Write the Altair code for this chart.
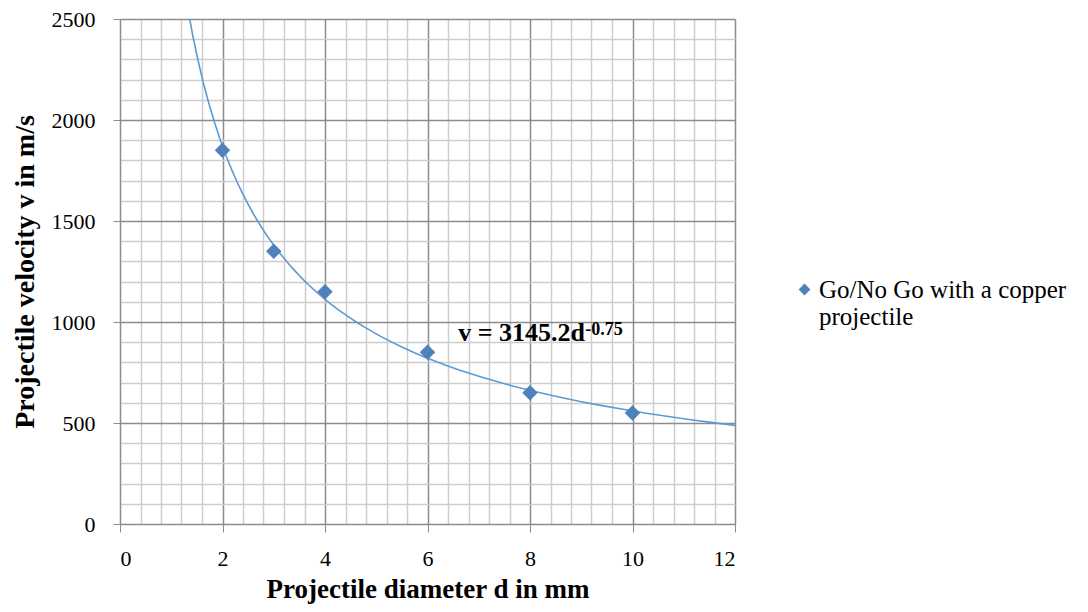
import altair as alt
import pandas as pd

diam = [2, 3, 4, 6, 8, 10]
vel = [1850, 1350, 1150, 850, 650, 550]
series_name = "Go/No Go with a copper projectile"
x_ticks = [round(i * 0.4, 1) for i in range(31)]
y_ticks = [i * 100 for i in range(26)]
eq_main = "v = 3145.2d"
eq_sup = "-0.75"
eq_pos = (6.6, 906)

df = pd.DataFrame({"d": diam, "v": vel, "series": [series_name] * len(diam)})
eq_df = pd.DataFrame({"d": [eq_pos[0]], "v": [eq_pos[1]]})

FONT = "Liberation Serif"
MAJ = "#8c8c8c"
MIN = "#cdcdcd"

xaxis = alt.Axis(
    values=x_ticks,
    tickCount=100,
    title="Projectile diameter d in mm",
    labelExpr="abs(datum.value % 2) < 0.001 ? format(datum.value, 'd') : ''",
    gridColor={"condition": {"test": "abs(datum.value % 2) < 0.001", "value": MAJ}, "value": MIN},
    tickColor={"condition": {"test": "abs(datum.value % 2) < 0.001", "value": MAJ}, "value": "transparent"},
    tickSize=8,
    labelPadding=16,
    titlePadding=7,
    titleFontSize=27,
    labelOverlap=False,
    labelBound=False,
)
yaxis = alt.Axis(
    values=y_ticks,
    tickCount=100,
    title="Projectile velocity v in m/s",
    labelExpr="datum.value % 500 === 0 ? format(datum.value, 'd') : ''",
    gridColor={"condition": {"test": "datum.value % 500 === 0", "value": MAJ}, "value": MIN},
    tickColor={"condition": {"test": "datum.value % 500 === 0", "value": MAJ}, "value": "transparent"},
    tickSize=7,
    labelPadding=18,
    titlePadding=12,
    labelOverlap=False,
    labelBound=False,
)

xs = alt.Scale(domain=[0, 12], nice=False)
ys = alt.Scale(domain=[0, 2500], nice=False)

trend = alt.Chart(df).transform_regression(
    "d", "v", method="pow", extent=[1.2, 12]
).mark_line(color="#5b9bd5", strokeWidth=1.6, clip=True).encode(
    x=alt.X("d:Q", scale=xs, axis=xaxis),
    y=alt.Y("v:Q", scale=ys, axis=yaxis),
)

points = alt.Chart(df).mark_point(shape="diamond", filled=True, size=240, opacity=1).encode(
    x=alt.X("d:Q", scale=xs),
    y=alt.Y("v:Q", scale=ys),
    color=alt.Color(
        "series:N",
        scale=alt.Scale(range=["#4f81bd"]),
        legend=alt.Legend(
            title=None,
            orient="none",
            legendX=672,
            legendY=258,
            symbolType="diamond",
            symbolSize=140,
            labelFont=FONT,
            labelFontSize=25,
            labelColor="black",
            labelLimit=500,
            labelExpr="['Go/No Go with a copper', 'projectile']",
            labelOffset=2,
        ),
    ),
)

eq1 = alt.Chart(eq_df).mark_text(
    text=eq_main, font=FONT, fontSize=26, fontWeight="bold", align="left", baseline="alphabetic", color="black"
).encode(x=alt.X("d:Q", scale=xs), y=alt.Y("v:Q", scale=ys))

eq2 = alt.Chart(eq_df).mark_text(
    text=eq_sup, font=FONT, fontSize=18, fontWeight="bold", align="left", baseline="alphabetic", color="black",
    dx=127, dy=-6,
).encode(x=alt.X("d:Q", scale=xs), y=alt.Y("v:Q", scale=ys))

chart = alt.layer(trend, points, eq1, eq2).properties(
    width=615,
    height=505,
    padding={"left": 112, "top": 11, "right": 345, "bottom": 80},
    autosize=alt.AutoSizeParams(type="none"),
).configure_view(stroke=None).configure_axis(
    labelFont=FONT,
    labelFontSize=22,
    labelColor="black",
    titleFont=FONT,
    titleFontSize=28,
    titleFontWeight="bold",
    titleColor="black",
    domainColor=MAJ,
    gridWidth=1.5,
)

chart.save("out.html", embed_options={"renderer": "svg", "actions": False})
